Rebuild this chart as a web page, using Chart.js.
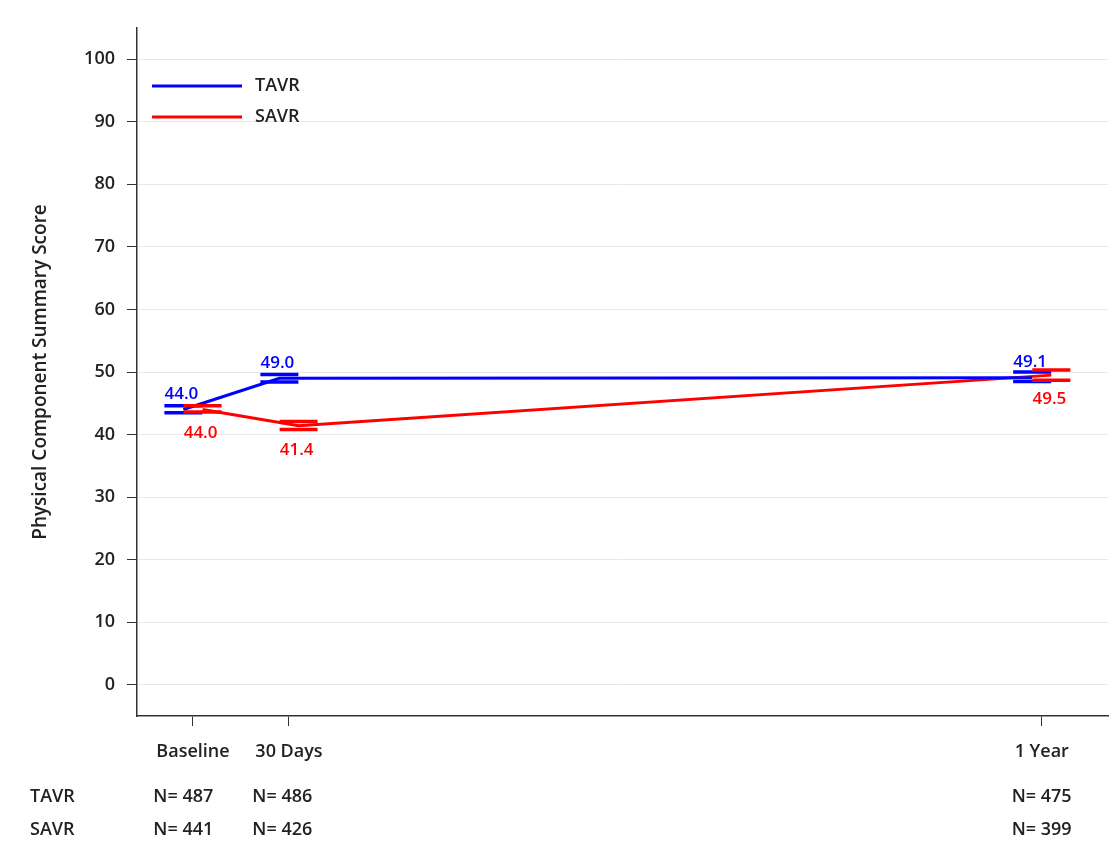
<!DOCTYPE html>
<html>
<head>
<meta charset="utf-8">
<script src="https://cdn.jsdelivr.net/npm/chart.js@4"></script>
<style>
  html, body { margin: 0; padding: 0; background: #fff; }
  #wrap { width: 1116px; height: 844px; position: relative; }
</style>
</head>
<body>
<div id="wrap"><canvas id="chart"></canvas></div>
<script>
// visits and where they sit on the (uneven) time axis
const visits = ['Baseline', '30 Days', '1 Year'];
const visitPos = [0, 1, 8.84];

// PCS means with confidence limits
const tavrMean = [44.0, 49.0, 49.1];
const tavrLow = [43.5, 48.4, 48.5];
const tavrHigh = [44.6, 49.6, 50.0];
const savrMean = [44.0, 41.4, 49.5];
const savrLow = [43.6, 40.8, 48.7];
const savrHigh = [44.6, 42.1, 50.3];

// patients at each visit
const tavrN = [487, 486, 475];
const savrN = [441, 426, 399];

const yTicks = [0, 10, 20, 30, 40, 50, 60, 70, 80, 90, 100];

const FONT = '"Open Sans", sans-serif';
const TEXT = '#222';
const JITTER = 0.1; // small horizontal shift so the two groups don't overlap

const toPoints = (vals, shift) => vals.map((v, i) => ({ x: visitPos[i] + shift, y: v }));

// CI caps + value labels
const markPlugin = {
    id: 'marks',
    afterDatasetsDraw(chart) {
        const { ctx, scales: { x, y } } = chart;
        ctx.save();
        chart.data.datasets.forEach(ds => {
            ds.data.forEach((p, i) => {
                const px = x.getPixelForValue(p.x);
                ctx.strokeStyle = ds.borderColor;
                ctx.lineWidth = 3.5;
                [ds.low[i], ds.high[i]].forEach(v => {
                    const py = y.getPixelForValue(v);
                    ctx.beginPath();
                    ctx.moveTo(px - 19, py);
                    ctx.lineTo(px + 19, py);
                    ctx.stroke();
                });
                ctx.fillStyle = ds.borderColor;
                ctx.font = '600 17px ' + FONT;
                ctx.textAlign = 'center';
                ctx.textBaseline = 'middle';
                ctx.fillText(p.y.toFixed(1), px - 2, y.getPixelForValue(p.y) + ds.labelDy);
            });
        });
        ctx.restore();
    },
    afterDraw(chart) {
        const { ctx, scales: { x } } = chart;
        ctx.save();
        ctx.fillStyle = TEXT;
        ctx.textBaseline = 'middle';
        ctx.font = '600 18px ' + FONT;

        // legend inside the plot
        const legend = [['TAVR', '#0000ff', 86], ['SAVR', '#ff0000', 117]];
        legend.forEach(([name, col, ly]) => {
            ctx.strokeStyle = col;
            ctx.lineWidth = 3;
            ctx.beginPath();
            ctx.moveTo(152, ly);
            ctx.lineTo(242, ly);
            ctx.stroke();
            ctx.fillStyle = TEXT;
            ctx.textAlign = 'left';
            ctx.fillText(name, 255, ly);
        });

        // N at risk table
        ctx.textAlign = 'left';
        ctx.fillText('TAVR', 30, 797);
        ctx.fillText('SAVR', 30, 830);
        visits.forEach((v, i) => {
            const cx = x.getPixelForValue(visitPos[i]);
            const left = cx - 3 - ctx.measureText(v).width / 2;
            ctx.fillText('N= ' + tavrN[i], left, 797);
            ctx.fillText('N= ' + savrN[i], left, 830);
        });
        ctx.restore();
    }
};

new Chart(document.getElementById('chart'), {
    type: 'line',
    data: {
        datasets: [
            {
                label: 'TAVR',
                data: toPoints(tavrMean, -JITTER),
                low: tavrLow, high: tavrHigh, labelDy: -15,
                borderColor: '#0000ff',
                borderWidth: 3,
                pointRadius: 0,
                tension: 0
            },
            {
                label: 'SAVR',
                data: toPoints(savrMean, JITTER),
                low: savrLow, high: savrHigh, labelDy: 24,
                borderColor: '#ff0000',
                borderWidth: 3,
                pointRadius: 0,
                tension: 0
            }
        ]
    },
    options: {
        responsive: true,
        maintainAspectRatio: false,
        animation: false,
        layout: { padding: { top: 28, right: 8, left: 0, bottom: 0 } },
        plugins: { legend: { display: false }, tooltip: { enabled: false } },
        scales: {
            x: {
                type: 'linear',
                min: -0.583,
                max: 9.53,
                afterBuildTicks: s => { s.ticks = visitPos.map(v => ({ value: v })); },
                afterFit: s => { s.height = 128; },
                grid: { drawOnChartArea: false, tickColor: '#333', tickLength: 10 },
                border: { color: '#333', width: 1.5 },
                ticks: {
                    autoSkip: false,
                    maxRotation: 0,
                    padding: 15,
                    color: TEXT,
                    font: { family: FONT, size: 18, weight: '600' },
                    callback: v => visits[visitPos.indexOf(v)]
                }
            },
            y: {
                min: -5,
                max: 105,
                afterBuildTicks: s => { s.ticks = yTicks.map(v => ({ value: v })); },
                afterFit: s => { s.width = 137; },
                grid: { color: '#e8e8e8', tickColor: '#333', tickLength: 10 },
                border: { color: '#333', width: 1.5 },
                ticks: {
                    padding: 12,
                    color: TEXT,
                    font: { family: FONT, size: 18, weight: '600' }
                },
                title: {
                    display: true,
                    text: 'Physical Component Summary Score',
                    color: TEXT,
                    font: { family: FONT, size: 19, weight: '600' },
                    padding: { top: 29 }
                }
            }
        }
    },
    plugins: [markPlugin]
});
</script>
</body>
</html>
